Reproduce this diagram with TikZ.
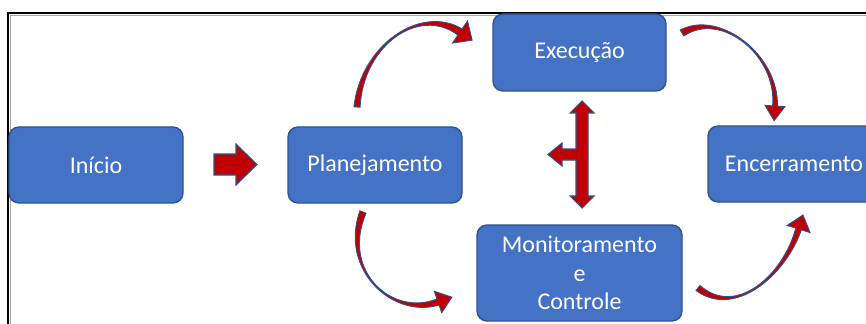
\documentclass[tikz,border=0pt]{standalone}
\usepackage{fontspec}
\setmainfont{Carlito}
\usetikzlibrary{calc}

\definecolor{boxblue}{HTML}{4472C4}
\definecolor{edgeblue}{HTML}{2F528F}
\definecolor{arrred}{HTML}{C00000}

\tikzset{
  phase/.style={rectangle, rounded corners=7.5pt, draw=edgeblue, line width=1pt,
    fill=boxblue, text=white, align=center,
    font=\fontsize{18}{21.5}\selectfont,
    minimum width=130.5pt, minimum height=57pt, inner sep=0pt},
  blockarrow/.style={draw=edgeblue, line width=0.8pt, fill=arrred, line join=miter},
  bentarrowstyle/.style={draw=edgeblue, line width=0.7pt, fill=arrred, line join=miter},
  framemain/.style={draw=black, line width=1.5pt},
  frameshade/.style={draw=black!35, line width=0.8pt}
}

% Tapered curved arrow along the Bezier (#1) .. (#2) and (#3) .. (#4), where #4 is the
% middle of the head's base. #5 start half width, #6 half width at the control
% points, #7 half width at the head, #8 head half width, #9 head length.
\newcommand\bentarrow[9]{%
  \draw[bentarrowstyle]
    ($(#1)!#5!90:(#2)$) .. controls ($(#2)!#6!-90:(#1)$) and ($(#3)!#6!90:(#4)$)
      .. ($(#4)!#7!-90:(#3)$)
    -- ($(#4)!#8!-90:(#3)$) -- ($(#4)!-#9!(#3)$) -- ($(#4)!#8!90:(#3)$)
    -- ($(#4)!#7!90:(#3)$)
    .. controls ($(#3)!#6!-90:(#4)$) and ($(#2)!#6!90:(#1)$)
      .. ($(#1)!#5!-90:(#2)$) -- cycle;
}

\begin{document}
\begin{tikzpicture}[x=0.75pt,y=-0.75pt]
  \useasboundingbox (0,0) rectangle (866,324);
  \clip (0,0) rectangle (866,324);

  % outer frame with a light shadow line
  \draw[frameshade] (10.2,330) -- (10.2,15.2) -- (870,15.2);
  \draw[framemain] (8,330) -- (8,13) -- (870,13);

  % process phases
  \node[phase] (ini) at (96,165) {Início};
  \node[phase] (plan) at (375,165) {Planejamento};
  \node[phase, minimum width=129.75pt, minimum height=57.75pt] (exec) at (579.5,52.5) {Execução};
  \node[phase, minimum width=153.75pt, minimum height=72pt] (mon) at (579.5,273) {Monitoramento\\e\\Controle};
  \node[phase, minimum width=129pt] (enc) at (794,164) {Encerramento};

  % straight block arrow between the first two phases
  \draw[blockarrow] (214,154) -- (236,154) -- (236,144) -- (257,164.5)
    -- (236,185) -- (236,175) -- (214,175) -- cycle;

  % T-shaped arrow between execution, monitoring and planning
  \draw[blockarrow] (582,101) -- (594,113) -- (588,113) -- (588,196) -- (594,196)
    -- (582,208) -- (570,196) -- (576,196) -- (576,160) -- (562,160) -- (562,166)
    -- (548,154.5) -- (562,143) -- (562,149) -- (576,149) -- (576,113)
    -- (570,113) -- cycle;

  % curved arrows: start, control points and head base
  \coordinate (a1s) at (357,107);  \coordinate (a1p) at (362,45);
  \coordinate (a1q) at (420,5);    \coordinate (a1e) at (460,32);
  \coordinate (a2s) at (363,212);  \coordinate (a2p) at (340,270);
  \coordinate (a2q) at (392,318);  \coordinate (a2e) at (438,302);
  \coordinate (a3s) at (682,33);   \coordinate (a3p) at (720,10);
  \coordinate (a3q) at (778,55);   \coordinate (a3e) at (775,106);
  \coordinate (a4s) at (698,288);  \coordinate (a4p) at (735,318);
  \coordinate (a4q) at (784,276);  \coordinate (a4e) at (798.6,229);

  \bentarrow{a1s}{a1p}{a1q}{a1e}{2.3pt}{0.8pt}{2.8pt}{10pt}{11pt}
  \bentarrow{a2s}{a2p}{a2q}{a2e}{2.5pt}{0.8pt}{2.4pt}{8.5pt}{11pt}
  \bentarrow{a3s}{a3p}{a3q}{a3e}{2.6pt}{0.7pt}{1.8pt}{7.5pt}{11pt}
  \bentarrow{a4s}{a4p}{a4q}{a4e}{2.4pt}{0.8pt}{2.2pt}{9pt}{11pt}
\end{tikzpicture}
\end{document}
